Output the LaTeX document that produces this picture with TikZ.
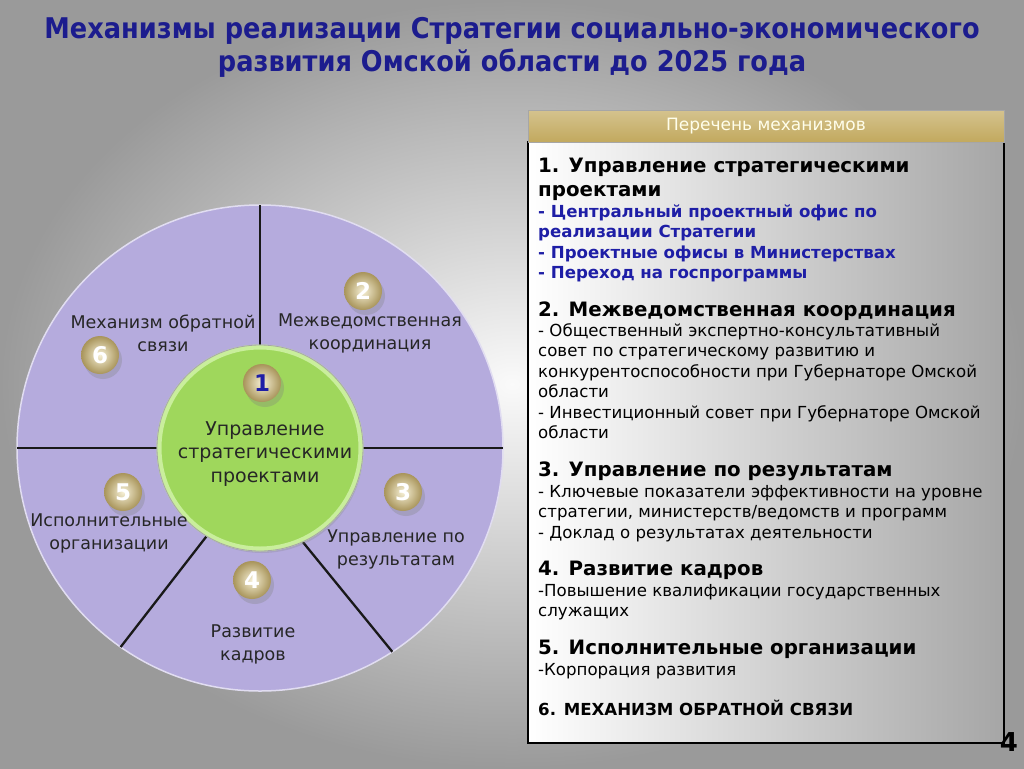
\documentclass[tikz,border=0pt]{standalone}
\usepackage{fontspec}
\setmainfont{DejaVu Sans}
\newfontfamily\titlefont[FakeStretch=0.9]{DejaVu Sans}
\usetikzlibrary{calc,positioning,shadows}
\definecolor{slidegray}{HTML}{9A9A9A}
\definecolor{wheelviolet}{HTML}{B5ABDD}
\definecolor{hubgreen}{HTML}{9FD75C}
\definecolor{hubrim}{HTML}{C9EE9C}
\definecolor{titleblue}{HTML}{1C1C8E}
\definecolor{itemblue}{HTML}{1E1EA6}
\definecolor{bargold}{HTML}{C2A95E}
\definecolor{ballgold}{HTML}{A8945A}
\definecolor{ballcream}{HTML}{F6F0D6}
\tikzset{
  divider/.style={line width=2.3pt,black!90},
  ballnum/.style={circle,minimum size=38pt,inner sep=0pt,inner color=ballcream,outer color=ballgold,
    text=white,font=\fontsize{23}{23}\selectfont\bfseries,
    drop shadow={opacity=0.3,shadow xshift=3pt,shadow yshift=-5pt}},
  wheeltext/.style={align=center,inner sep=0pt,text=black!85,font=\fontsize{17.5}{23}\selectfont},
  listhead/.style={anchor=base west,inner sep=0pt,align=left,font=\fontsize{19.8}{24}\selectfont\bfseries},
  listitem/.style={anchor=base west,inner sep=0pt,align=left,font=\fontsize{16.6}{20.5}\selectfont},
  headbar/.style={minimum width=476pt,minimum height=32pt,inner sep=0pt,top color=bargold!70!white,
    bottom color=bargold,draw=gray!70,text=white!92!yellow,font=\fontsize{17}{17}\selectfont}
}
\begin{document}
\begin{tikzpicture}[x=1pt,y=-1pt]
  \shade[inner color=white!96!gray,outer color=slidegray] (0,0) rectangle (1024,768);
  \useasboundingbox (0,0) rectangle (1024,768);
  \node[font=\titlefont\fontsize{28.5}{33}\selectfont\bfseries,text=titleblue,align=center] (title) at (512,47)
  {Механизмы реализации Стратегии социально-экономического\\развития Омской области до 2025 года};
  \coordinate (c) at (260,448);
  \fill[wheelviolet,draw=white!60!wheelviolet,line width=1.5pt] (c) circle[radius=243pt];
  \foreach \a/\b in {-90/-90,180/180,0/0,121/125,66/57}
    \draw[divider] ($(c)+(\a:100)$) -- ($(c)+(\b:243)$);
  \node[circle,minimum size=202pt,fill=hubgreen,draw=hubrim,line width=5pt,
    drop shadow={opacity=0.25,shadow xshift=2pt,shadow yshift=-4pt}] (hub) at (c) {};
  \draw[gray!70,line width=0.8pt] (hub) circle[radius=103pt];
  \node[wheeltext,font=\fontsize{19}{23.5}\selectfont] (hubtext) at (265,454) {Управление\\стратегическими\\проектами};
  \node[ballnum,text=itemblue] (ball1) at (262,383) {1};
  \foreach \k/\bx/\by in {2/363/291,3/403/492,4/252/580,5/123/492,6/100/355}
    \node[ballnum] (ball\k) at (\bx,\by) {\k};
  \node[wheeltext] (feedback) at (163,333) {Механизм обратной\\связи};
  \node[wheeltext] (coord) at (370,333) {Межведомственная\\координация};
  \node[wheeltext] (results) at (396,549) {Управление по\\результатам};
  \node[wheeltext] (staff) at (253,644) {Развитие\\кадров};
  \node[wheeltext] (orgs) at (109,533) {Исполнительные\\организации};
  \shade[left color=white,right color=gray!70,draw=black,line width=2.5pt] (528,142) rectangle (1004,743);
  \node[headbar] (head) at (766,126) {Перечень механизмов};
  \node[listhead] (h1) at (538,196) {1. Управление стратегическими\\проектами};
  \node[listitem,font=\fontsize{16.6}{20.5}\selectfont\bfseries,text=itemblue] (i1) at (538,278.5)
  {- Центральный проектный офис по\\реализации Стратегии\\- Проектные офисы в Министерствах\\- Переход на госпрограммы};
  \node[listhead] (h2) at (538,316) {2. Межведомственная координация};
  \node[listitem] (i2) at (538,438.5) {- Общественный экспертно-консультативный\\совет по стратегическому развитию и\\конкурентоспособности при Губернаторе Омской\\области\\- Инвестиционный совет при Губернаторе Омской\\области};
  \node[listhead] (h3) at (538,476) {3. Управление по результатам};
  \node[listitem] (i3) at (538,538) {- Ключевые показатели эффективности на уровне\\стратегии, министерств/ведомств и программ\\- Доклад о результатах деятельности};
  \node[listhead] (h4) at (538,575) {4. Развитие кадров};
  \node[listitem] (i4) at (538,616.5) {-Повышение квалификации государственных\\служащих};
  \node[listhead] (h5) at (538,654) {5. Исполнительные организации};
  \node[listitem] (i5) at (538,675) {-Корпорация развития};
  \node[listhead,font=\fontsize{16.6}{20}\selectfont\bfseries] (h6) at (538,715) {6. МЕХАНИЗМ ОБРАТНОЙ СВЯЗИ};
  \node[font=\fontsize{26}{26}\selectfont\bfseries] (pageno) at (1009,742) {4};
\end{tikzpicture}
\end{document}
